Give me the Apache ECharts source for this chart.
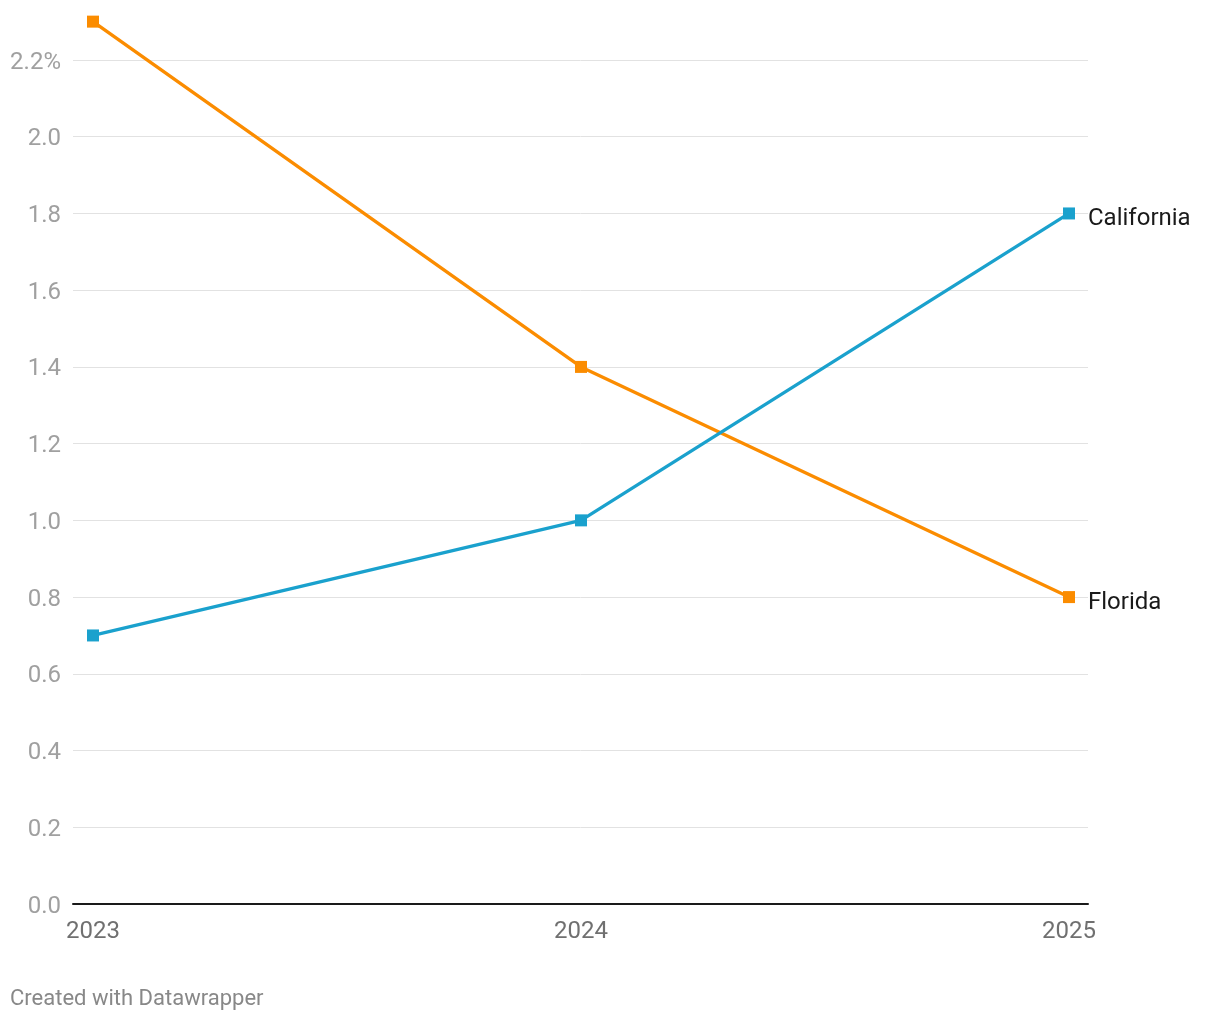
<!DOCTYPE html>
<html>
<head>
<meta charset="utf-8">
<script src="https://cdn.jsdelivr.net/npm/echarts@6/dist/echarts.min.js"></script>
<style>
html,body{margin:0;padding:0;background:#fff;}
#chart{width:1220px;height:1020px;}
</style>
</head>
<body>
<div id="chart"></div>
<script>
var years = [2023, 2024, 2025];
var california = [0.7, 1.0, 1.8];
var florida = [2.3, 1.4, 0.8];

function pairs(vals){ return years.map(function(y,i){ return [y, vals[i]]; }); }

var chart = echarts.init(document.getElementById('chart'), null, {renderer:'canvas'});
var font = 'Roboto, "Noto Sans", sans-serif';
chart.setOption({
  animation:false,
  backgroundColor:'#ffffff',
  grid:{left:73, right:132, top:60, bottom:116, containLabel:false},
  xAxis:{
    type:'value', min:2023-20/488, max:2025+19/488,
    axisLine:{show:true, lineStyle:{color:'#1a1a1a', width:2}},
    axisTick:{show:false},
    splitLine:{show:false},
    axisLabel:{
      customValues: years,
      color:'#707070', fontSize:24, fontFamily:font, margin:16,
      formatter:function(v){ return String(Math.round(v)); }
    }
  },
  yAxis:{
    type:'value', min:0, max:2.2, interval:0.2,
    axisLine:{show:false}, axisTick:{show:false},
    splitLine:{show:true, lineStyle:{color:'#e2e2e2', width:1}},
    axisLabel:{
      color:'#a0a0a0', fontSize:24, fontFamily:font, margin:12,
      formatter:function(v){ return '{t|' + (Math.abs(v-2.2)<1e-9 ? '2.2%' : v.toFixed(1)) + '}'; },
      rich:{t:{color:'#a0a0a0', fontSize:24, fontFamily:font, padding:[5,0,0,0]}}
    }
  },
  series:[
    {
      name:'Florida', type:'line', data:pairs(florida), clip:false,
      symbol:'rect', symbolSize:12, showAllSymbol:true,
      lineStyle:{color:'#fb8c00', width:3.3},
      itemStyle:{color:'#fb8c00'},
      endLabel:{show:true, formatter:'Florida', color:'#1a1a1a', fontSize:24, fontFamily:font, distance:19, offset:[0,6]},
      z:2
    },
    {
      name:'California', type:'line', data:pairs(california), clip:false,
      symbol:'rect', symbolSize:12, showAllSymbol:true,
      lineStyle:{color:'#1aa1cd', width:3.3},
      itemStyle:{color:'#1aa1cd'},
      endLabel:{show:true, formatter:'California', color:'#1a1a1a', fontSize:24, fontFamily:font, distance:19, offset:[0,6]},
      z:3
    }
  ],
  graphic:[
    {type:'text', left:10, top:988, style:{text:'Created with Datawrapper', fill:'#888888', font:'22px Roboto, "Noto Sans", sans-serif'}}
  ]
});
</script>
</body>
</html>
